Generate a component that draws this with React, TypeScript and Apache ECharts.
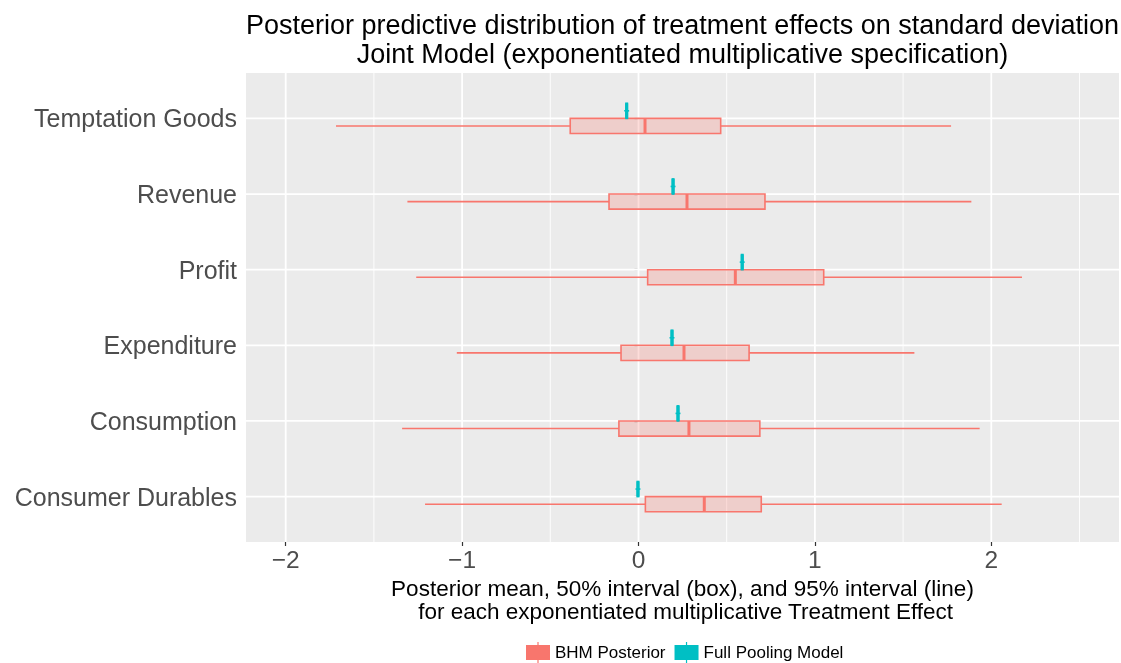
import React, { useEffect, useRef } from "react";
import * as echarts from "echarts";

const categories = [
  "Consumer Durables",
  "Consumption",
  "Expenditure",
  "Profit",
  "Revenue",
  "Temptation Goods",
];

// BHM posterior: 2.5%, 25%, mean, 75%, 97.5%
const bhmLo95 = [-1.21, -1.34, -1.03, -1.26, -1.31, -1.715];
const bhmLo50 = [0.039, -0.111, -0.099, 0.052, -0.167, -0.387];
const bhmMean = [0.373, 0.286, 0.258, 0.549, 0.275, 0.037];
const bhmHi50 = [0.696, 0.688, 0.627, 1.05, 0.717, 0.466];
const bhmHi95 = [2.059, 1.934, 1.564, 2.174, 1.887, 1.772];

// Full pooling model (very narrow)
const fpLo95 = [-0.017, 0.21, 0.176, 0.574, 0.182, -0.081];
const fpLo50 = [-0.007, 0.22, 0.186, 0.584, 0.192, -0.071];
const fpMean = [-0.003, 0.224, 0.19, 0.588, 0.196, -0.067];
const fpHi50 = [0.001, 0.228, 0.194, 0.592, 0.2, -0.063];
const fpHi95 = [0.011, 0.238, 0.204, 0.602, 0.21, -0.053];

const xMajor = [-2, -1, 0, 1, 2];
const xMinor = [-1.5, -0.5, 0.5, 1.5, 2.5];
const xTickLabels = ["\u22122", "\u22121", "0", "1", "2"];

const X_MIN = -2.225;
const X_MAX = 2.724;
const Y_MIN = 0.4;
const Y_MAX = 6.6;

const FONT = "Liberation Sans, Arial, Helvetica, sans-serif";
const RED = "#F8766D";
const RED_FILL = "rgba(248,118,109,0.25)";
const TEAL = "#00BFC4";

function makeBoxRender(color: string, fill: string, offset: number) {
  return (params: any, api: any) => {
    const pos = api.value(0);
    const lo95 = api.value(1);
    const lo50 = api.value(2);
    const mean = api.value(3);
    const hi50 = api.value(4);
    const hi95 = api.value(5);
    const yc = api.coord([mean, pos + offset])[1];
    const h = api.size([0, 0.2])[1];
    const xl95 = api.coord([lo95, pos])[0];
    const xl50 = api.coord([lo50, pos])[0];
    const xm = api.coord([mean, pos])[0];
    const xh50 = api.coord([hi50, pos])[0];
    const xh95 = api.coord([hi95, pos])[0];
    return {
      type: "group",
      children: [
        {
          type: "line",
          shape: { x1: xl95, y1: yc, x2: xl50, y2: yc },
          style: { stroke: color, lineWidth: 1.6 },
        },
        {
          type: "line",
          shape: { x1: xh50, y1: yc, x2: xh95, y2: yc },
          style: { stroke: color, lineWidth: 1.6 },
        },
        {
          type: "rect",
          shape: { x: xl50, y: yc - h / 2, width: xh50 - xl50, height: h },
          style: { fill: fill, stroke: color, lineWidth: 1.6 },
        },
        {
          type: "line",
          shape: { x1: xm, y1: yc - h / 2, x2: xm, y2: yc + h / 2 },
          style: { stroke: color, lineWidth: 3 },
        },
      ],
    };
  };
}

const legendIcon = "path://M0,3H24V18H0Z M11.4,0H12.6V21H11.4Z";

export default function App() {
  const ref = useRef<HTMLDivElement>(null);

  useEffect(() => {
    if (!ref.current) return;
    const chart = echarts.init(ref.current, null, { renderer: "svg" });

    const bhmData = categories.map((_, i) => [
      i + 1,
      bhmLo95[i],
      bhmLo50[i],
      bhmMean[i],
      bhmHi50[i],
      bhmHi95[i],
    ]);
    const fpData = categories.map((_, i) => [
      i + 1,
      fpLo95[i],
      fpLo50[i],
      fpMean[i],
      fpHi50[i],
      fpHi95[i],
    ]);
    const vGridData = [
      ...xMajor.map((v) => [v, 1]),
      ...xMinor.map((v) => [v, 0]),
    ];
    const hGridData = categories.map((_, i) => [i + 1]);

    const option: any = {
      animation: false,
      textStyle: { fontFamily: FONT },
      graphic: [
        {
          type: "text",
          x: 682.5,
          y: 10,
          style: {
            text:
              "Posterior predictive distribution of treatment effects on standard deviation\nJoint Model (exponentiated multiplicative specification)",
            fontSize: 27,
            lineHeight: 29,
            fontFamily: FONT,
            fill: "#000000",
            align: "center",
            textAlign: "center",
            verticalAlign: "top",
            textVerticalAlign: "top",
          },
        },
      ],
      grid: {
        left: 246,
        right: 2,
        top: 73,
        bottom: 121,
        show: true,
        backgroundColor: "#EBEBEB",
        borderWidth: 0,
        containLabel: false,
        outerBoundsMode: "none",
      },
      legend: {
        data: [
          { name: "BHM Posterior", icon: legendIcon },
          { name: "Full Pooling Model", icon: legendIcon },
        ],
        left: 521,
        top: 637,
        padding: 5,
        itemWidth: 24,
        itemHeight: 21,
        itemGap: 9,
        selectedMode: false,
        textStyle: { fontSize: 17, color: "#000000", fontFamily: FONT },
      },
      xAxis: {
        type: "value",
        min: X_MIN,
        max: X_MAX,
        splitLine: { show: false },
        axisLine: { show: false },
        axisTick: {
          show: true,
          customValues: xMajor,
          length: 4,
          lineStyle: { color: "#333333", width: 1.2 },
        },
        axisLabel: {
          customValues: xMajor,
          formatter: (v: number) => {
            const idx = xMajor.findIndex((m) => Math.abs(m - v) < 1e-6);
            return idx >= 0 ? xTickLabels[idx] : "";
          },
          fontSize: 24.5,
          color: "#4D4D4D",
          margin: 5,
          fontFamily: FONT,
        },
        name:
          "Posterior mean, 50% interval (box), and 95% interval (line)\n for each exponentiated multiplicative Treatment Effect",
        nameLocation: "middle",
        nameGap: 30,
        nameTextStyle: {
          fontSize: 22.5,
          lineHeight: 23,
          color: "#000000",
          fontFamily: FONT,
          verticalAlign: "top",
        },
      },
      yAxis: {
        type: "value",
        min: Y_MIN,
        max: Y_MAX,
        splitLine: { show: false },
        axisLine: { show: false },
        axisTick: {
          show: true,
          customValues: [1, 2, 3, 4, 5, 6],
          length: 4,
          lineStyle: { color: "#333333", width: 1.2 },
        },
        axisLabel: {
          customValues: [1, 2, 3, 4, 5, 6],
          formatter: (v: number) => categories[Math.round(v) - 1] ?? "",
          fontSize: 25,
          color: "#4D4D4D",
          margin: 9,
          fontFamily: FONT,
        },
      },
      series: [
        {
          type: "custom",
          name: "vgrid",
          silent: true,
          z: 1,
          encode: { x: 0 },
          data: vGridData,
          renderItem: (params: any, api: any) => {
            const x = api.coord([api.value(0), Y_MIN])[0];
            const cs = params.coordSys;
            return {
              type: "line",
              shape: { x1: x, y1: cs.y, x2: x, y2: cs.y + cs.height },
              style: { stroke: "#FFFFFF", lineWidth: api.value(1) ? 1.8 : 0.9 },
            };
          },
        },
        {
          type: "custom",
          name: "hgrid",
          silent: true,
          z: 1,
          encode: { y: 0 },
          data: hGridData,
          renderItem: (params: any, api: any) => {
            const y = api.coord([X_MIN, api.value(0)])[1];
            const cs = params.coordSys;
            return {
              type: "line",
              shape: { x1: cs.x, y1: y, x2: cs.x + cs.width, y2: y },
              style: { stroke: "#FFFFFF", lineWidth: 1.8 },
            };
          },
        },
        {
          type: "custom",
          name: "BHM Posterior",
          z: 3,
          itemStyle: { color: RED },
          encode: { y: 0, x: [1, 2, 3, 4, 5] },
          data: bhmData,
          renderItem: makeBoxRender(RED, RED_FILL, -0.1),
        },
        {
          type: "custom",
          name: "Full Pooling Model",
          z: 3,
          itemStyle: { color: TEAL },
          encode: { y: 0, x: [1, 2, 3, 4, 5] },
          data: fpData,
          renderItem: makeBoxRender(TEAL, TEAL, 0.1),
        },
      ],
    };

    chart.setOption(option);
    return () => {
      chart.dispose();
    };
  }, []);

  return (
    <div
      ref={ref}
      style={{ position: "fixed", left: 0, top: 0, width: 1121, height: 663 }}
    />
  );
}
